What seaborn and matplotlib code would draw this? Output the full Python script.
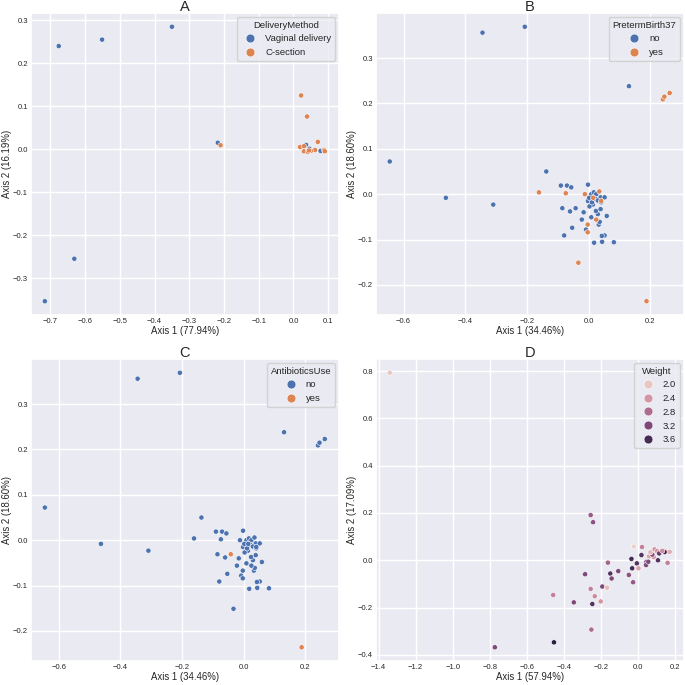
import numpy as np
import pandas as pd
import seaborn as sns
import matplotlib
matplotlib.use('Agg')
import matplotlib.pyplot as plt

# panel A: delivery method
a_axis1 = [-0.676, -0.551, -0.350, -0.218, -0.631, -0.716, 0.036, 0.046, 0.078,
           -0.210, 0.022, 0.039, 0.019, 0.030, 0.030, 0.070, 0.062, 0.050, 0.041,
           0.088, 0.090, 0.045]
a_axis2 = [0.240, 0.255, 0.285, 0.015, -0.255, -0.354, 0.010, 0.001, -0.004,
           0.009, 0.125, 0.076, 0.005, 0.007, -0.005, 0.017, -0.002, -0.004, -0.006,
           -0.002, -0.005, -0.003]
a_delivery = ["Vaginal delivery"] * 9 + ["C-section"] * 13

# panels B and C: same ordination, two different metadata columns
bc_axis1 = [-0.344, -0.207, 0.131, -0.645, -0.463, -0.309, -0.137, -0.090, -0.070,
            -0.056, -0.002, -0.085, -0.060, -0.042, -0.016, -0.022, 0.009, -0.053,
            -0.079, -0.008, 0.018, 0.044, 0.052, 0.082, 0.059, 0.033, 0.036, 0.030,
            0.024, 0.039, 0.014, 0.003, -0.002, 0.009, 0.017, 0.025, 0.039, 0.052,
            0.002, 0.022, 0.030, 0.041, 0.011, 0.043,
            -0.161, -0.074, -0.012, 0.015, 0.035, 0.041, 0.025, -0.003, -0.003,
            -0.033, 0.188, 0.241, 0.246, 0.263]
bc_axis2 = [0.356, 0.369, 0.238, 0.072, -0.008, -0.023, 0.050, 0.019, 0.019,
            0.015, 0.021, -0.031, -0.038, -0.031, -0.040, -0.056, -0.051, -0.074,
            -0.091, -0.078, -0.107, -0.105, -0.091, -0.106, -0.048, -0.067, -0.061,
            -0.044, -0.037, -0.033, -0.023, -0.027, -0.015, 0.000, 0.004, 0.000,
            -0.007, -0.007, -0.008, -0.010, -0.014, -0.018, -0.018, -0.092,
            0.004, 0.002, 0.000, -0.008, 0.006, -0.015, -0.056, -0.067, -0.084,
            -0.151, -0.236, 0.209, 0.215, 0.223]
bc_preterm = ["no"] * 44 + ["yes"] * 14
bc_antibiotics = ["no"] * 58
bc_antibiotics[13] = "yes"
bc_antibiotics[54] = "yes"

# panel D: birth weight
d_axis1 = [-1.340, -0.256, -0.243, -0.023, 0.021, 0.059, 0.084, 0.089, 0.102,
           0.077, 0.123, 0.138, 0.152, 0.170, 0.143, 0.114, 0.107, 0.159, 0.018,
           -0.036, -0.007, -0.032, 0.002, 0.045, 0.043, 0.055, -0.027, -0.050,
           -0.107, -0.150, -0.143, -0.163, -0.286, -0.193, -0.168, -0.256, -0.234,
           -0.202, -0.247, -0.458, -0.347, -0.252, -0.454, -0.773, 0.066, 0.130]
d_axis2 = [0.793, 0.191, 0.161, 0.058, 0.056, 0.017, 0.014, 0.046, 0.039,
           0.024, 0.035, 0.042, 0.036, 0.036, 0.035, 0.029, 0.000, -0.011, 0.022,
           0.006, -0.013, -0.034, -0.034, -0.007, -0.020, -0.006, -0.093, -0.062,
           -0.046, -0.056, -0.077, -0.010, -0.059, -0.111, -0.116, -0.121, -0.152,
           -0.174, -0.185, -0.147, -0.178, -0.293, -0.347, -0.368, 0.034, 0.040]
d_weight = [2.0, 3.0, 3.1, 1.9, 2.6, 2.3, 2.4, 2.5, 2.4,
            3.1, 2.6, 2.1, 2.3, 2.2, 3.6, 3.4, 3.5, 2.6, 3.5,
            3.6, 3.5, 3.6, 2.3, 3.4, 3.2, 3.2, 3.0, 3.1,
            3.2, 3.5, 3.2, 2.9, 3.2, 3.2, 2.1, 2.6, 2.5,
            2.4, 3.5, 2.6, 3.2, 2.8, 3.8, 3.2, 2.1, 2.5]

df_a = pd.DataFrame({"Axis1": a_axis1, "Axis2": a_axis2, "DeliveryMethod": a_delivery})
df_bc = pd.DataFrame({"Axis1": bc_axis1, "Axis2": bc_axis2,
                      "PretermBirth37": bc_preterm, "AntibioticsUse": bc_antibiotics})
df_d = pd.DataFrame({"Axis1": d_axis1, "Axis2": d_axis2, "Weight": d_weight})

sns.set_theme(style="darkgrid")
plt.rcParams['font.family'] = ['Liberation Sans', 'DejaVu Sans']

fig, axes = plt.subplots(2, 2, figsize=(6.85, 6.85), dpi=100)
plt.subplots_adjust(left=0.045, right=0.998, bottom=0.035, top=0.981,
                    wspace=0.12, hspace=0.146)

panels = [
    (axes[0, 0], df_a, "DeliveryMethod", ["Vaginal delivery", "C-section"], "A",
     "Axis 1 (77.94%)", "Axis 2 (16.19%)"),
    (axes[0, 1], df_bc, "PretermBirth37", ["no", "yes"], "B",
     "Axis 1 (34.46%)", "Axis 2 (18.60%)"),
    (axes[1, 0], df_bc, "AntibioticsUse", ["no", "yes"], "C",
     "Axis 1 (34.46%)", "Axis 2 (18.60%)"),
]

def style_axes(ax, title, xl, yl, legend_title):
    ax.set_title(title, fontsize=10.5, pad=1.5)
    ax.set_xlabel(xl, fontsize=6.9, labelpad=1)
    ax.set_ylabel(yl, fontsize=6.9, labelpad=1)
    ax.tick_params(labelsize=5.5, pad=2, length=0)
    ax.legend(title=legend_title, loc="upper right", fontsize=6.8,
              title_fontsize=6.8, markerscale=1.7, handletextpad=0.6,
              borderaxespad=0.4)

for ax, df, hue, order, title, xl, yl in panels:
    sns.scatterplot(x="Axis1", y="Axis2", hue=hue, hue_order=order, data=df,
                    ax=ax, s=14, linewidth=0.4, edgecolor="white")
    style_axes(ax, title, xl, yl, hue)

ax = axes[1, 1]
sns.scatterplot(x="Axis1", y="Axis2", hue="Weight", data=df_d, ax=ax,
                s=14, linewidth=0.4, edgecolor="white")
style_axes(ax, "D", "Axis 1 (57.94%)", "Axis 2 (17.09%)", "Weight")

fig.savefig("out.png", dpi=100)
